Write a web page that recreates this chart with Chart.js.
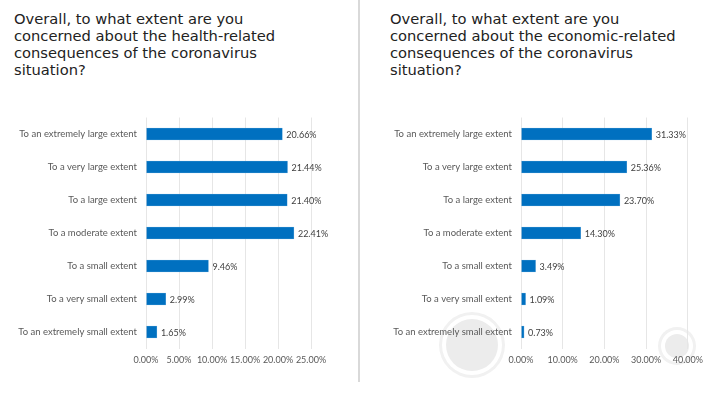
<!DOCTYPE html>
<html>
<head>
<meta charset="utf-8">
<script src="https://cdn.jsdelivr.net/npm/chart.js@4.4.1/dist/chart.umd.min.js"></script>
<style>
  body { margin: 0; width: 709px; height: 394px; background: #fff; position: relative; overflow: hidden; font-family: "DejaVu Sans", sans-serif; }
  .title { position: absolute; top: 10px; font-size: 14.7px; line-height: 17px; color: #222; }
  .divider { position: absolute; left: 358px; top: 0; width: 1.5px; height: 382px; background: #d9d9d9; }
  .dot { position: absolute; border-radius: 50%; background: #ececec; box-shadow: 0 0 0 4px #fff, 0 0 0 7px #f1f1f1; }
  canvas { position: absolute; }
</style>
</head>
<body>
<div class="dot" style="left:446px;top:319px;width:52px;height:52px;"></div>
<div class="dot" style="left:665px;top:334px;width:24px;height:24px;"></div>
<div class="title" style="left:14px;">Overall, to what extent are you<br>concerned about the health-related<br>consequences of the coronavirus<br>situation?</div>
<div class="title" style="left:390px;">Overall, to what extent are you<br>concerned about the economic-related<br>consequences of the coronavirus<br>situation?</div>
<div class="divider"></div>
<canvas id="health" style="left:0;top:100px;" width="358" height="280"></canvas>
<canvas id="economic" style="left:359px;top:100px;" width="350" height="280"></canvas>
<script>
const categories = [
  'To an extremely large extent',
  'To a very large extent',
  'To a large extent',
  'To a moderate extent',
  'To a small extent',
  'To a very small extent',
  'To an extremely small extent'
];
const healthValues = [20.66, 21.44, 21.40, 22.41, 9.46, 2.99, 1.65];
const economicValues = [31.33, 25.36, 23.70, 14.30, 3.49, 1.09, 0.73];
const healthTicks = { max: 25, step: 5 };
const economicTicks = { max: 40, step: 10 };

const barLabels = {
  id: 'barLabels',
  afterDatasetsDraw(chart) {
    const ctx = chart.ctx;
    const meta = chart.getDatasetMeta(0);
    ctx.save();
    ctx.font = '9px Lato';
    ctx.fillStyle = '#404040';
    ctx.textBaseline = 'middle';
    meta.data.forEach((bar, i) => {
      const v = chart.data.datasets[0].data[i];
      ctx.fillText(v.toFixed(2) + '%', bar.x + 4, bar.y + 1);
    });
    ctx.restore();
  }
};

function makeChart(id, values, ticks, axisWidth, padRight) {
  return new Chart(document.getElementById(id), {
    type: 'bar',
    data: {
      labels: categories,
      datasets: [{
        data: values,
        backgroundColor: '#0070c0',
        borderColor: '#5aa3d8',
        borderWidth: 0.6,
        barThickness: 12
      }]
    },
    options: {
      indexAxis: 'y',
      responsive: false,
      animation: false,
      layout: { padding: { top: 17.5, right: padRight, bottom: 11.5, left: 0 } },
      plugins: { legend: { display: false }, tooltip: { enabled: false } },
      scales: {
        x: {
          min: 0,
          max: ticks.max,
          ticks: {
            stepSize: ticks.step,
            padding: 6,
            maxRotation: 0,
            minRotation: 0,
            autoSkip: false,
            color: '#595959',
            font: { family: 'Lato', size: 9 },
            callback: v => v.toFixed(2) + '%'
          },
          grid: { color: '#e6e6e6', drawTicks: false },
          border: { display: false },
          afterFit: s => { s.height = 20; }
        },
        y: {
          ticks: {
            padding: 9,
            color: '#595959',
            font: { family: 'Lato', size: 9.5 }
          },
          grid: { display: false, drawTicks: false },
          border: { display: false },
          afterFit: s => { s.width = axisWidth; }
        }
      }
    },
    plugins: [barLabels]
  });
}

makeChart('health', healthValues, healthTicks, 146, 47);
makeChart('economic', economicValues, economicTicks, 162, 21);
</script>
</body>
</html>
